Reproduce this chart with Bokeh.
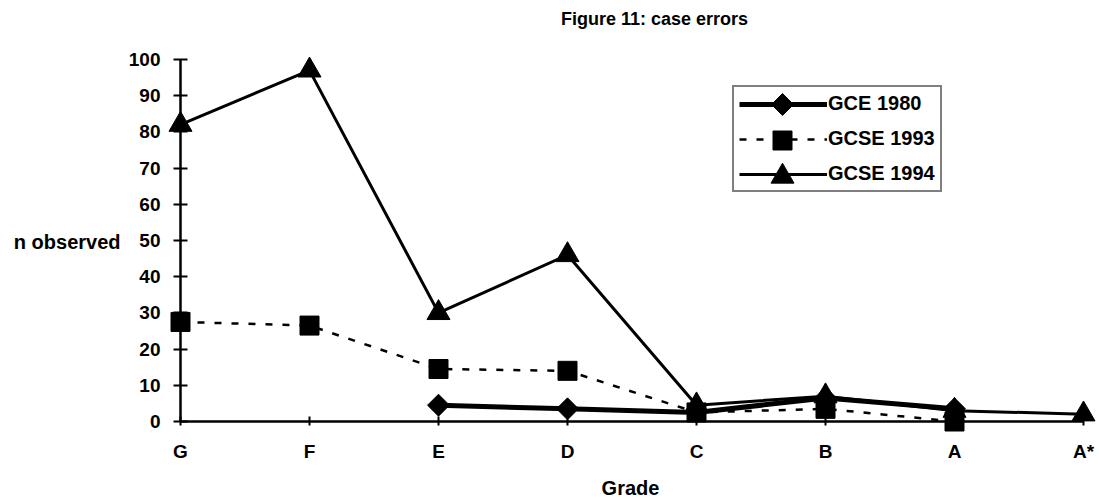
import math
from bokeh.plotting import figure
from bokeh.models import (Range1d, FixedTicker, LinearAxis, Label, Legend,
                          LegendItem, ColumnDataSource)
from bokeh.embed import file_html
from bokeh.resources import INLINE

# ---- data ----
grades = ["G", "F", "E", "D", "C", "B", "A", "A*"]
gce_1980 = [None, None, 4.5, 3.5, 2.5, 6.5, 3.5, None]
gcse_1993 = [27.5, 26.5, 14.5, 14.0, 2.5, 3.5, 0.0, None]
gcse_1994 = [82, 97, 30, 46, 4.5, 7, 3, 2]
y_ticks = list(range(0, 101, 10))
series_names = ["GCE 1980", "GCSE 1993", "GCSE 1994"]

FONT = "Liberation Sans"

# layout helpers (screen geometry)
X0, DX = 180.0, 129.0     # screen x of category 0, px per category
Y0, DY = 421.0, 3.62      # screen y of value 0, px per unit
W, H = 1099, 499


def sx2x(sx):
    return (sx - X0) / DX


def sy2y(sy):
    return (Y0 - sy) / DY


def src(vals):
    xs = [i for i, v in enumerate(vals) if v is not None]
    ys = [v for v in vals if v is not None]
    return ColumnDataSource(dict(x=xs, y=ys))


p = figure(width=W, height=H, output_backend="svg", toolbar_location=None,
           x_range=Range1d(sx2x(0), sx2x(W)),
           y_range=Range1d(sy2y(H), sy2y(0)),
           x_axis_type=None, y_axis_type=None, min_border=0)
p.min_border_left = p.min_border_right = p.min_border_top = p.min_border_bottom = 0
p.outline_line_color = None
p.title.visible = False
p.background_fill_color = "white"
p.border_fill_color = "white"

# axes
xa = LinearAxis(fixed_location=0, bounds=(0, len(grades) - 1),
                ticker=FixedTicker(ticks=list(range(len(grades)))),
                major_label_overrides={i: g for i, g in enumerate(grades)})
ya = LinearAxis(fixed_location=0, bounds=(0, 100),
                ticker=FixedTicker(ticks=y_ticks))
for ax in (xa, ya):
    ax.axis_line_width = 2.5
    ax.major_tick_line_width = 2
    ax.minor_tick_line_color = None
    ax.major_label_text_font = FONT
    ax.major_label_text_font_style = "bold"
    ax.major_label_text_font_size = "19px"
    ax.major_label_text_color = "black"
    ax.axis_line_color = "black"
    ax.major_tick_line_color = "black"
xa.major_tick_in = 5
xa.major_tick_out = 4
xa.major_label_standoff = 15
ya.major_tick_in = 7
ya.major_tick_out = 7
ya.major_label_standoff = 13
p.add_layout(xa, "below")
p.add_layout(ya, "left")

s80, s93, s94 = src(gce_1980), src(gcse_1993), src(gcse_1994)

STY = [
    dict(lw=5, dash="solid", marker="square", size=15.5, angle=math.pi / 4),
    dict(lw=2.5, dash="7 10", marker="square", size=19, angle=0.0),
    dict(lw=3, dash="solid", marker="triangle", size=23, angle=0.0),
]

lines, marks = [], []
for s, st in zip((s80, s93, s94), STY):
    lines.append(p.line("x", "y", source=s, line_color="black", line_width=st["lw"],
                        line_dash=st["dash"]))
    marks.append(p.scatter("x", "y", source=s, marker=st["marker"], size=st["size"],
                           angle=st["angle"], fill_color="black", line_color="black"))

# full-size legend markers (Bokeh legend shrinks markers); drawn under the
# transparent legend, exactly at its glyph centres
row_sy = [104, 140, 176]
for st, ry in zip(STY, row_sy):
    p.scatter(x=[sx2x(782)], y=[sy2y(ry)], marker=st["marker"], size=st["size"],
              angle=st["angle"], fill_color="black", line_color="black")

legend = Legend(items=[LegendItem(label=n, renderers=[l, m])
                       for n, l, m in zip(series_names, lines, marks)],
                location=(732, H - 192), orientation="vertical")
legend.glyph_width = 88
legend.glyph_height = 20
legend.label_height = 20
legend.label_standoff = 1
legend.spacing = 12
legend.padding = 5
legend.margin = 0
legend.border_line_color = "black"
legend.border_line_width = 2
legend.background_fill_alpha = 0
legend.label_text_font = FONT
legend.label_text_font_style = "bold"
legend.label_text_font_size = "20px"
legend.label_text_color = "black"
p.add_layout(legend)


# texts
def lab(text, sx, sy, size, align="center"):
    p.add_layout(Label(x=sx2x(sx), y=sy2y(sy), text=text,
                       text_font=FONT, text_font_style="bold", text_font_size=size,
                       text_align=align, text_baseline="middle", text_color="black"))


lab("Figure 11: case errors", 654, 18, "18px")
lab("n observed", 120, 241, "20px", align="right")
lab("Grade", 630, 487, "20px")

open("out.html", "w").write(file_html(p, INLINE))
